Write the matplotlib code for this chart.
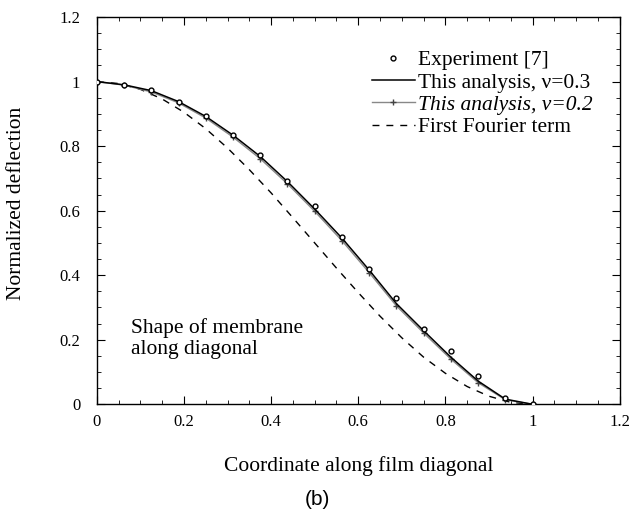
import numpy as np
import matplotlib
matplotlib.use("Agg")
from matplotlib import pyplot as plt
from matplotlib.ticker import MultipleLocator

# data
x_grid = [0, 0.0625, 0.125, 0.1875, 0.25, 0.3125, 0.375, 0.4375, 0.5,
          0.5625, 0.625, 0.6875, 0.75, 0.8125, 0.875, 0.9375, 1.0]
experiment = [1.0, 0.99, 0.973, 0.938, 0.892, 0.834, 0.774, 0.692, 0.616,
              0.518, 0.418, 0.328, 0.232, 0.166, 0.088, 0.019, 0.0]
nu03 = [1.0, 0.990, 0.972, 0.938, 0.892, 0.834, 0.768, 0.690, 0.605,
        0.515, 0.416, 0.312, 0.228, 0.146, 0.072, 0.016, 0.0]
nu02 = [1.0, 0.989, 0.968, 0.934, 0.887, 0.828, 0.761, 0.683, 0.598,
        0.507, 0.408, 0.305, 0.221, 0.140, 0.067, 0.014, 0.0]

x_fourier = [0, 0.05, 0.1, 0.15, 0.2, 0.25, 0.3, 0.35, 0.4, 0.45, 0.5,
             0.55, 0.6, 0.65, 0.7, 0.75, 0.8, 0.85, 0.9, 0.95, 1.0]
fourier = [1.0, 0.994, 0.976, 0.946, 0.905, 0.854, 0.794, 0.727, 0.655,
           0.578, 0.5, 0.422, 0.346, 0.273, 0.206, 0.146, 0.096, 0.055,
           0.025, 0.006, 0.0]

tick_vals = [0, 0.2, 0.4, 0.6, 0.8, 1.0, 1.2]
tick_text = ['0', '0.2', '0.4', '0.6', '0.8', '1', '1.2']

plt.rcParams['font.family'] = ['Liberation Serif', 'DejaVu Serif']

fig = plt.figure(figsize=(6.33, 5.17), dpi=100)
ax = fig.add_axes([0.153, 0.218, 0.826, 0.749])

ax.plot(x_grid, experiment, linestyle='none', marker='o', markersize=3.5,
        markerfacecolor='white', markeredgecolor='black', markeredgewidth=1.0,
        label='Experiment [7]', zorder=4)
ax.plot(x_grid, nu03, color='black', linewidth=1.1,
        label='This analysis, \u03bd=0.3', zorder=3)
ax.plot(x_grid, nu02, color='#888888', linewidth=1.0, marker='+',
        markersize=5, markeredgecolor='#444444',
        label='This analysis, \u03bd=0.2', zorder=2)
ax.plot(x_fourier, fourier, color='black', linewidth=1.0,
        linestyle=(0, (5, 5)), label='First Fourier term', zorder=1)

ax.set_xlim(0, 1.2)
ax.set_ylim(0, 1.2)
ax.xaxis.set_minor_locator(MultipleLocator(0.05))
ax.yaxis.set_minor_locator(MultipleLocator(0.05))
ax.set_xticks(tick_vals, tick_text)
ax.set_yticks(tick_vals, tick_text)
ax.tick_params(which='both', direction='in', top=True, right=True, labelsize=12)
ax.tick_params(which='major', length=6)
ax.tick_params(which='minor', length=3)
ax.tick_params(axis='x', which='major', pad=7)
ax.tick_params(axis='y', which='major', pad=12)
for s in ax.spines.values():
    s.set_linewidth(1.0)

ax.set_xlabel('Coordinate along film diagonal', fontsize=15.5)
ax.xaxis.set_label_coords(0.5, -0.134)
ax.set_ylabel('Normalized deflection', fontsize=15.5)
ax.yaxis.set_label_coords(-0.136, 0.52)

ax.text(0.078, 0.205, 'Shape of membrane\nalong diagonal', fontsize=15.5,
        linespacing=1.15, va='center', ha='left')

leg = ax.legend(loc='upper left', bbox_to_anchor=(0.526, 0.914), frameon=False,
                fontsize=15.5, handlelength=2.0, handletextpad=0.15,
                labelspacing=0.1, borderaxespad=0, borderpad=0)
leg.get_texts()[2].set_style('italic')

fig.text(0.502, 0.033, '(b)', fontsize=15, family='Liberation Sans',
         ha='center', va='center')

plt.savefig('out.png', dpi=100)
